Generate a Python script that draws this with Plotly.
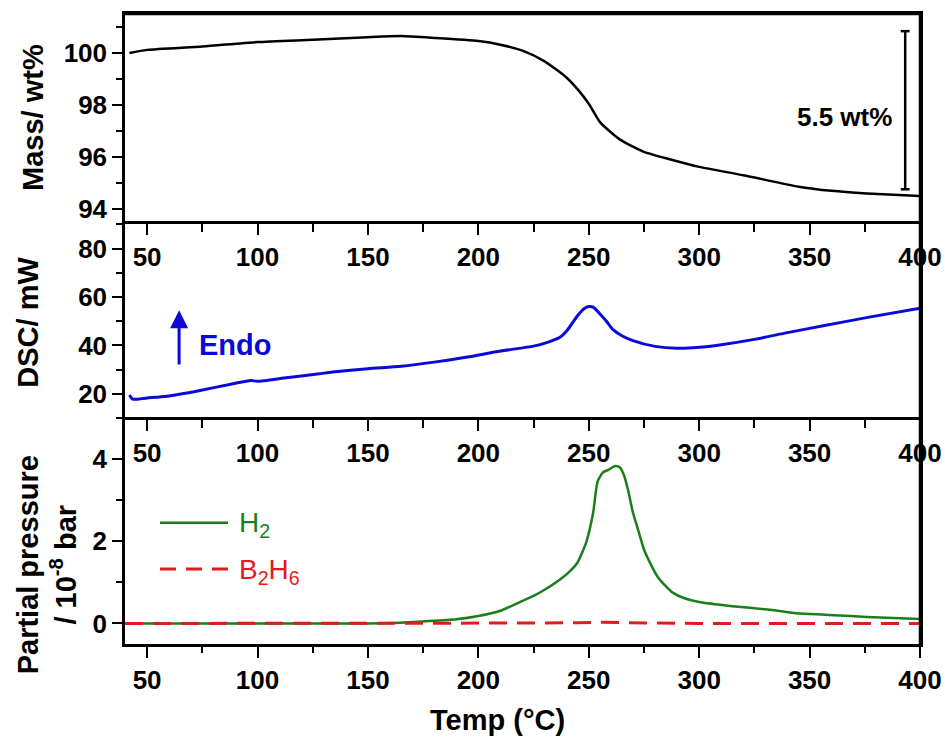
import plotly.graph_objects as go

# ---------------- data ----------------
mass_T = [42, 50, 75, 100, 125, 150, 165, 180, 200, 210, 220, 230, 240, 245, 250,
          255, 260, 264, 270, 275, 285, 300, 320, 345, 360, 376, 400]
mass = [100.0, 100.12, 100.25, 100.42, 100.51, 100.61, 100.65, 100.58, 100.46, 100.32,
        100.09, 99.68, 99.05, 98.6, 98.05, 97.35, 96.95, 96.68, 96.4, 96.2, 95.95,
        95.62, 95.3, 94.86, 94.7, 94.6, 94.5]

dsc_T = [42, 43.5, 50, 59, 74, 89, 97, 100, 112, 128, 134, 150, 165, 180, 195, 210,
         225, 232, 237, 240, 242, 245, 248, 250, 252, 255, 258, 261, 265, 270, 280,
         290, 300, 310, 325, 340, 355, 377, 400]
dsc = [19.5, 17.8, 18.3, 19.0, 21.4, 24.2, 25.5, 25.2, 26.5, 28.3, 29.0, 30.4, 31.4,
       33.1, 35.2, 37.7, 39.7, 41.5, 43.4, 46.0, 48.5, 52.4, 55.3, 56.1, 55.8, 53.1,
       50.0, 46.5, 44.0, 42.0, 39.6, 38.8, 39.2, 40.3, 42.5, 45.3, 47.9, 51.7, 55.4]

h2_T = [40, 100, 150, 165, 175, 190, 200, 210, 220, 225, 230, 237, 242, 245, 249, 252,
        254, 256.5, 259, 262, 264, 266, 268, 270, 272.5, 275, 278, 281, 285, 288, 293,
        300, 315, 331, 346, 361, 376, 400]
h2 = [0, 0, 0.0, 0.02, 0.05, 0.1, 0.18, 0.31, 0.55, 0.67, 0.82, 1.07, 1.3, 1.49, 2.0,
      2.7, 3.45, 3.68, 3.74, 3.83, 3.8, 3.6, 3.2, 2.7, 2.25, 1.8, 1.45, 1.15, 0.9, 0.75,
      0.62, 0.52, 0.42, 0.34, 0.24, 0.2, 0.16, 0.11]

b2h6_T = [40, 100, 200, 230, 245, 255, 265, 280, 300, 400]
b2h6 = [0, 0, 0.0, 0.01, 0.02, 0.03, 0.02, 0.01, 0.0, 0.0]

x_range = [40, 400]
mass_range = [93.5, 101.5]
dsc_range = [10, 91]
pp_range = [-0.5, 5.0]

# ---------------- styling ----------------
F = "Liberation Sans, Arial, sans-serif"
tick_font = dict(family=F, size=26, color="black", weight="bold")
AXW = 2.5
BLUE = "#0a0ad8"
GREEN = "#1a7f1a"
RED = "#e31a1c"

fig = go.Figure()
fig.add_trace(go.Scatter(x=mass_T, y=mass, mode="lines", xaxis="x", yaxis="y",
                         line=dict(color="black", width=2.5, shape="spline", smoothing=0.6),
                         showlegend=False))
fig.add_trace(go.Scatter(x=dsc_T, y=dsc, mode="lines", xaxis="x2", yaxis="y2",
                         line=dict(color=BLUE, width=3, shape="spline", smoothing=0.6),
                         showlegend=False))
fig.add_trace(go.Scatter(x=b2h6_T, y=b2h6, mode="lines", xaxis="x4", yaxis="y3",
                         line=dict(color=RED, width=3, dash="18px,10px"),
                         showlegend=False))
fig.add_trace(go.Scatter(x=h2_T, y=h2, mode="lines", xaxis="x3", yaxis="y3",
                         line=dict(color=GREEN, width=2.5, shape="spline", smoothing=0.6),
                         showlegend=False))

common_line = dict(showline=True, linecolor="black", linewidth=AXW, showgrid=False,
                   zeroline=False, tickcolor="black", tickwidth=2)

d_top = [0.6698, 1.0]
d_mid = [0.3587, 0.6698]
d_bot = [0.0, 0.3587]

xtick_common = dict(tickmode="linear", tick0=0, dtick=50, tickfont=tick_font)
minor_down = dict(ticks="outside", dtick=25, tick0=0, ticklen=8, tickcolor="black", tickwidth=2)
minor_out = dict(ticks="outside", dtick=25, tick0=0, ticklen=6, tickcolor="black", tickwidth=2)


def ytick_minor(d):
    return dict(ticks="outside", dtick=d, tick0=0, ticklen=6, tickcolor="black", tickwidth=2)


fig.update_layout(
    template="none",
    width=945, height=738,
    margin=dict(l=125, r=25, t=14, b=94),
    paper_bgcolor="white", plot_bgcolor="rgba(0,0,0,0)",
    font=dict(family=F, color="black"),
    showlegend=False,
    xaxis=dict(domain=[0, 1], anchor="y", side="top", range=x_range, ticks="",
               showticklabels=False, **common_line),
    yaxis=dict(domain=d_top, anchor="x", range=mass_range, ticks="outside", ticklen=10,
               tickmode="linear", tick0=0, dtick=2, tickfont=tick_font, mirror=True,
               minor=ytick_minor(1), **common_line),
    xaxis2=dict(domain=[0, 1], anchor="free", position=d_mid[1], side="bottom",
                range=x_range, ticks="outside", ticklen=11, minor=minor_down,
                **xtick_common, **common_line),
    yaxis2=dict(domain=d_mid, anchor="x2", range=dsc_range, ticks="outside", ticklen=10,
                tickmode="linear", tick0=0, dtick=20, tickfont=tick_font, mirror=True,
                minor=ytick_minor(10), **common_line),
    xaxis3=dict(domain=[0, 1], anchor="free", position=d_bot[1], side="bottom",
                range=x_range, ticks="outside", ticklen=11, minor=minor_down,
                **xtick_common, **common_line),
    xaxis4=dict(domain=[0, 1], anchor="y3", side="bottom", range=x_range, ticks="outside",
                ticklen=11, minor=minor_out, **xtick_common, **common_line),
    yaxis3=dict(domain=d_bot, anchor="x3", range=pp_range, ticks="outside", ticklen=10,
                tickmode="linear", tick0=0, dtick=2, tickfont=tick_font, mirror=True,
                minor=ytick_minor(1), **common_line),
)

title_font = dict(family=F, size=29, color="black", weight="bold")
ann = []
ann.append(dict(text="Mass/ wt%", xref="paper", yref="paper", x=-0.1157, y=0.835,
                textangle=-90, showarrow=False, font=title_font, xanchor="center", yanchor="middle"))
ann.append(dict(text="DSC/ mW", xref="paper", yref="paper", x=-0.122, y=0.51,
                textangle=-90, showarrow=False, font=title_font, xanchor="center", yanchor="middle"))
ann.append(dict(text="Partial pressure<br>/ 10<sup>-8</sup> bar", xref="paper", yref="paper",
                x=-0.098, y=0.125, textangle=-90, showarrow=False, font=title_font,
                xanchor="center", yanchor="middle", align="center"))
ann.append(dict(text="Temp (\u00b0C)", xref="paper", yref="paper", x=0.468, y=-0.1206,
                showarrow=False, font=title_font, xanchor="center", yanchor="middle"))
ann.append(dict(text="5.5 wt%", xref="x", yref="y", x=365.6, y=97.54, showarrow=False,
                font=dict(family=F, size=26, color="black", weight="bold"),
                xanchor="center", yanchor="middle"))
ann.append(dict(text="", xref="x2", yref="y2", x=64.5, y=54.5, axref="x2", ayref="y2",
                ax=64.5, ay=31.5, showarrow=True, arrowhead=2, arrowsize=1.2,
                arrowwidth=3, arrowcolor=BLUE))
ann.append(dict(text="Endo", xref="x2", yref="y2", x=72.6, y=40, showarrow=False,
                font=dict(family=F, size=29, color=BLUE, weight="bold"),
                xanchor="left", yanchor="middle"))
leg_font_g = dict(family=F, size=28, color=GREEN)
leg_font_r = dict(family=F, size=28, color=RED)
ann.append(dict(text="H<sub>2</sub>", xref="paper", yref="paper", x=(237 - 125) / 795,
                y=(644 - 524) / 630, showarrow=False, font=leg_font_g,
                xanchor="left", yanchor="middle"))
ann.append(dict(text="B<sub>2</sub>H<sub>6</sub>", xref="paper", yref="paper",
                x=(237 - 125) / 795, y=(644 - 571) / 630, showarrow=False, font=leg_font_r,
                xanchor="left", yanchor="middle"))
fig.update_layout(annotations=ann)

shapes = []
# error bar for the mass loss
bar_x, bar_lo, bar_hi, cap = 393.3, 94.76, 100.84, 2.0
shapes.append(dict(type="line", xref="x", yref="y", x0=bar_x, x1=bar_x, y0=bar_lo, y1=bar_hi,
                   line=dict(color="black", width=2.5)))
for yy in (bar_lo, bar_hi):
    shapes.append(dict(type="line", xref="x", yref="y", x0=bar_x - cap, x1=bar_x + cap,
                       y0=yy, y1=yy, line=dict(color="black", width=2.5)))
# legend samples
shapes.append(dict(type="line", xref="paper", yref="paper", x0=(160 - 125) / 795,
                   x1=(228 - 125) / 795, y0=(644 - 522.7) / 630, y1=(644 - 522.7) / 630,
                   line=dict(color=GREEN, width=2.5)))
shapes.append(dict(type="line", xref="paper", yref="paper", x0=(160 - 125) / 795,
                   x1=(228 - 125) / 795, y0=(644 - 569) / 630, y1=(644 - 569) / 630,
                   line=dict(color=RED, width=3, dash="16px,10px")))
# frame: top and right edges of the stacked panels, as thin filled bars
fw = AXW / 795.0
fh = AXW / 630.0
shapes.append(dict(type="rect", xref="paper", yref="paper", x0=-0.002, x1=1.0 + fw / 2,
                   y0=1.0 - fh / 2, y1=1.0 + fh / 2, fillcolor="black",
                   line=dict(width=0), layer="above"))
shapes.append(dict(type="rect", xref="paper", yref="paper", x0=1.0 - fw / 2, x1=1.0 + fw / 2,
                   y0=-0.002, y1=1.0 + fh / 2, fillcolor="black",
                   line=dict(width=0), layer="above"))
fig.update_layout(shapes=shapes)

fig.write_html("out.html")
